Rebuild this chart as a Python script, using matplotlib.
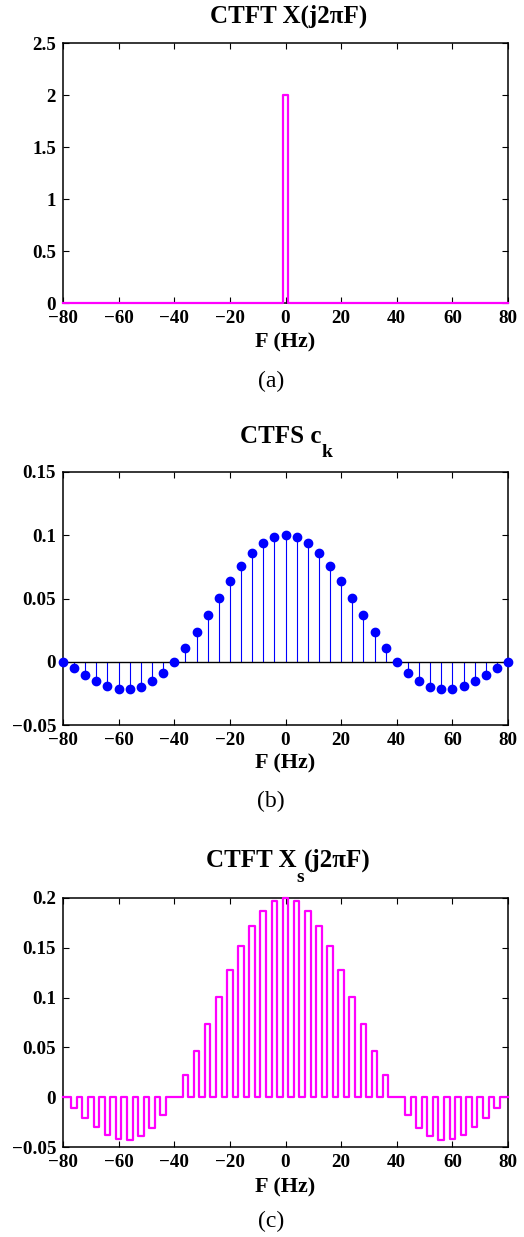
import numpy as np
import matplotlib
matplotlib.use("Agg")
import matplotlib.pyplot as plt

plt.rcParams['font.family'] = ['Liberation Serif', 'DejaVu Serif']
plt.rcParams['font.weight'] = 'bold'

# (a) rectangular CTFT, edges of the pulse
pulse_F = [-80, -1, -1, 1, 1, 80]
pulse_X = [0, 0, 2, 2, 0, 0]

# (b) CTFS coefficients c_k at F = k*4 Hz
ck_F = [-80, -76, -72, -68, -64, -60, -56, -52, -48, -44, -40,
        -36, -32, -28, -24, -20, -16, -12, -8, -4, 0,
        4, 8, 12, 16, 20, 24, 28, 32, 36, 40,
        44, 48, 52, 56, 60, 64, 68, 72, 76, 80]
ck = [0, -0.0052, -0.0104, -0.0151, -0.0189, -0.0212, -0.0216, -0.0197, -0.0156, -0.0089, 0,
      0.0109, 0.0234, 0.0368, 0.0505, 0.0637, 0.0757, 0.0858, 0.0935, 0.0984, 0.1,
      0.0984, 0.0935, 0.0858, 0.0757, 0.0637, 0.0505, 0.0368, 0.0234, 0.0109, 0,
      -0.0089, -0.0156, -0.0197, -0.0216, -0.0212, -0.0189, -0.0151, -0.0104, -0.0052, 0]

# (c) sampled-spectrum pulse heights (pulse width 2 Hz around each k*4 Hz)
xs_F = ck_F
xs_h = [0, -0.0104, -0.0208, -0.0302, -0.0378, -0.0424, -0.0432, -0.0394, -0.0312, -0.0178, 0,
        0.0218, 0.0468, 0.0736, 0.101, 0.1274, 0.1514, 0.1716, 0.187, 0.1968, 0.2,
        0.1968, 0.187, 0.1716, 0.1514, 0.1274, 0.101, 0.0736, 0.0468, 0.0218, 0,
        -0.0178, -0.0312, -0.0394, -0.0432, -0.0424, -0.0378, -0.0302, -0.0208, -0.0104, 0]
half_w = 1

W, H = 524, 1237
fig = plt.figure(figsize=(W / 100, H / 100), dpi=100)
renderer = fig.canvas.get_renderer()


def px_ax(left, top, right, bottom):
    return fig.add_axes([left / W, 1 - bottom / H, (right - left) / W, (bottom - top) / H])


def fmt(v):
    s = ('%g' % v)
    return s.replace('-', '\u2212')


def style(ax):
    ax.tick_params(direction='in', top=True, right=True, length=4, width=0.8,
                   labelsize=13.7, pad=5)
    for s in ax.spines.values():
        s.set_linewidth(1.1)
    ax.set_xlim(-80, 80)
    ax.set_xticks(np.arange(-80, 81, 20))
    ax.set_xticklabels([fmt(v) for v in ax.get_xticks()])


def title_parts(cx, base, parts):
    # parts: (text, fontsize, drop in px) -> laid out left to right, centred on cx
    objs = []
    for s, size, dy in parts:
        t = fig.text(0, 0, s, fontsize=size, fontweight='bold', ha='left', va='baseline')
        objs.append((t, dy))
    widths = [t.get_window_extent(renderer).width for t, _ in objs]
    x = cx - sum(widths) / 2
    for (t, dy), w in zip(objs, widths):
        t.set_position((x / W, 1 - (base + dy) / H))
        x += w


def labels(xlab_y, cap_y, cap):
    cx = (63 + 508) / 2 / W
    fig.text(cx, 1 - xlab_y / H, 'F (Hz)', ha='center', va='baseline', fontsize=16, fontweight='bold')
    fig.text(271 / W, 1 - cap_y / H, cap, ha='center', va='baseline', fontsize=17, fontweight='normal')


# (a)
ax1 = px_ax(63, 43, 508, 303)
ax1.plot(pulse_F, pulse_X, color='magenta', lw=1.6, clip_on=False, zorder=3)
ax1.set_ylim(0, 2.5)
yt = [0, 0.5, 1, 1.5, 2, 2.5]
ax1.set_yticks(yt)
ax1.set_yticklabels([fmt(v) for v in yt])
style(ax1)
title_parts(289, 23, [('CTFT X(j2\u03c0F)', 18, 0)])
labels(347, 387, '(a)')

# (b)
ax2 = px_ax(63, 472, 508, 725)
ml, sl, bl = ax2.stem(ck_F, ck, linefmt='b-', markerfmt='bo', basefmt='k-')
plt.setp(sl, linewidth=0.8, color='blue')
plt.setp(ml, markersize=6, color='blue', clip_on=False, zorder=4)
plt.setp(bl, linewidth=1.0, color='black')
ax2.set_ylim(-0.05, 0.15)
yt = [-0.05, 0, 0.05, 0.1, 0.15]
ax2.set_yticks(yt)
ax2.set_yticklabels([fmt(v) for v in yt])
style(ax2)
title_parts(286, 443, [('CTFS c', 18, 0), ('k', 14, 14)])
labels(768, 807, '(b)')

# (c)
fx, fy = [], []
for f, h in zip(xs_F, xs_h):
    a = max(f - half_w, -80)
    b = min(f + half_w, 80)
    fx += [a, a, b, b]
    fy += [0, h, h, 0]
ax3 = px_ax(63, 898, 508, 1147)
ax3.plot(fx, fy, color='magenta', lw=1.6, clip_on=False, zorder=3)
ax3.set_ylim(-0.05, 0.2)
yt = [-0.05, 0, 0.05, 0.1, 0.15, 0.2]
ax3.set_yticks(yt)
ax3.set_yticklabels([fmt(v) for v in yt])
style(ax3)
title_parts(288, 867, [('CTFT X', 18, 0), ('s', 14, 15), ('(j2\u03c0F)', 18, 0)])
labels(1192, 1227, '(c)')

fig.savefig('out.png', dpi=100)
